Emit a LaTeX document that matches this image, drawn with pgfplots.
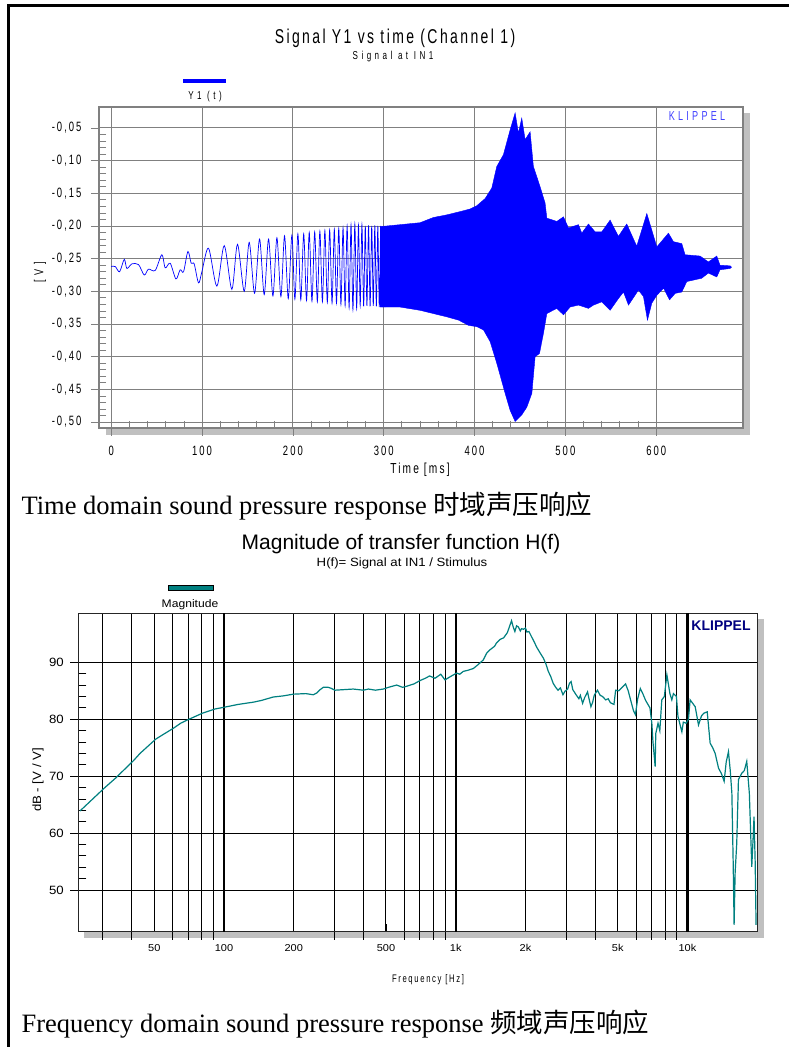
\documentclass[border=0pt]{standalone}
\usepackage{fontspec}
\setmainfont{Liberation Serif}
\newfontfamily\cjk{Noto Sans CJK SC}
\newfontfamily\klf[FakeStretch=0.7,LetterSpace=12]{Liberation Sans}
\newfontfamily\klw[FakeStretch=0.7,LetterSpace=30]{Liberation Sans}
\newfontfamily\klk[FakeStretch=0.7,LetterSpace=25]{Liberation Sans}
\newfontfamily\tk[FakeStretch=0.7,LetterSpace=15]{Liberation Sans}
\newfontfamily\arw[FakeStretch=1.1]{Liberation Sans}
\newfontfamily\ar{Liberation Sans}
\usepackage{pgfplots}
\pgfplotsset{compat=1.18}

\definecolor{sigblue}{HTML}{0000FF}
\definecolor{magteal}{HTML}{008080}
\definecolor{klblue}{HTML}{4040FF}
\definecolor{klnavy}{HTML}{000080}
\definecolor{shadow}{HTML}{C0C0C0}
\definecolor{grd}{HTML}{808080}

\newcommand{\fs}[1]{\fontsize{#1}{#1}\selectfont}

\begin{document}
\begin{tikzpicture}[x=1pt,y=1pt]
\useasboundingbox (0,0) rectangle (789,1047);
% page frame (top and left only)
\draw[line width=3pt] (8.5,0) -- (8.5,1041.5) -- (789,1041.5);

% drop shadows
\fill[shadow] (106,612) rectangle (750,934);
\fill[shadow] (84,109.3) rectangle (764,427.7);

% ---------------- time signal ----------------
\begin{axis}[
    at={(99pt,619pt)}, anchor=south west,
    width=644pt, height=321pt, scale only axis,
    axis background/.style={fill=white},
    xmin=-13.5, xmax=695.6, ymin=-0.509, ymax=-0.018,
    xtick={0,100,200,300,400,500,600},
    xticklabels={0,100,200,300,400,500,600},
    ytick={-0.50,-0.45,-0.40,-0.35,-0.30,-0.25,-0.20,-0.15,-0.10,-0.05},
    yticklabels={{-0,50},{-0,45},{-0,40},{-0,35},{-0,30},{-0,25},{-0,20},{-0,15},{-0,10},{-0,05}},
    minor x tick num=4, minor y tick num=4,
    grid=major, major grid style={grd, line width=0.9pt},
    axis line style={grd, line width=1.1pt},
    tick style={grd, line width=0.8pt},
    tick align=outside, major tick length=8pt, minor tick length=-7pt,
    tick pos=left,
    tick label style={font=\tk\fs{13.5}, text=black},
    xticklabel style={yshift=-7pt},
    yticklabel style={xshift=-6pt},
]
\addplot[sigblue, line width=0.7pt, smooth] coordinates {
(0,-0.262)(4.4,-0.262)(9.2,-0.270)(14.3,-0.251)(17.2,-0.265)(22.7,-0.258)(30,-0.259)
(36.3,-0.275)(41,-0.266)(48.4,-0.268)(55.7,-0.244)(59.4,-0.264)(64.9,-0.257)(71.2,-0.281)
(75.9,-0.267)(79.6,-0.270)(84.4,-0.239)(88,-0.257)(91.3,-0.258)(96.1,-0.287)(99.8,-0.270)
(107.1,-0.234)(116.3,-0.292)(124.4,-0.230)(132.8,-0.297)(139,-0.228)(146.4,-0.300)
(151.9,-0.225)(157.8,-0.303)(163.3,-0.220)(168.4,-0.305)(173.2,-0.220)(178,-0.307)
(182.4,-0.218)(186.8,-0.308)(190.8,-0.215)(194.9,-0.311)(198.9,-0.214)(202.2,-0.312)
(205.5,-0.212)(208.7,-0.313)(211.9,-0.212)(215,-0.314)(218,-0.210)(221,-0.315)(224,-0.209)
(226.9,-0.316)(229.7,-0.208)(232.5,-0.316)(235.2,-0.207)(237.9,-0.317)(240.5,-0.206)
(243.1,-0.318)(245.6,-0.205)(248,-0.318)(250.5,-0.204)(252.9,-0.320)(255.2,-0.203)
(257.5,-0.322)(259.7,-0.200)(261.9,-0.325)(264,-0.198)(266.1,-0.328)(268.2,-0.197)
(270.2,-0.326)(272.2,-0.199)(274.1,-0.322)(276,-0.198)(277.9,-0.323)(279.7,-0.200)
(281.5,-0.322)(283.3,-0.199)(285,-0.323)(286.8,-0.200)(288.5,-0.322)(290.2,-0.199)
(291.9,-0.323)(293.5,-0.200)(295.1,-0.324)(296.7,-0.200)(298.3,-0.324)(299.8,-0.201)
(301.3,-0.324)
};
% dense part: upper envelope then lower envelope back
\addplot[sigblue, fill=sigblue, line width=0.4pt] coordinates {
(296,-0.201)(318,-0.198)(340,-0.195)(354.8,-0.187)(369.5,-0.183)(384.2,-0.178)
(395.2,-0.174)(402.5,-0.169)(411.7,-0.158)(419,-0.142)(424.5,-0.109)(431.8,-0.091)
(439.2,-0.053)(444.7,-0.027)(448.3,-0.058)(452,-0.035)(455.7,-0.068)(461.2,-0.056)
(464.8,-0.109)(472.2,-0.140)(477.7,-0.165)(479.6,-0.188)(490.6,-0.193)(497.9,-0.186)
(503.4,-0.203)(514.4,-0.198)(518.1,-0.211)(525.4,-0.197)(532.8,-0.209)(540.1,-0.209)
(549.3,-0.191)(558.4,-0.216)(567.6,-0.197)(578.6,-0.231)(589.7,-0.181)(600.7,-0.232)
(613.5,-0.211)(619,-0.224)(628.2,-0.227)(631.8,-0.244)(648.3,-0.246)(657.5,-0.255)
(666.7,-0.246)(670.3,-0.260)(681.4,-0.261)(683,-0.263)
(681.4,-0.265)(670.3,-0.267)(666.7,-0.278)(657.5,-0.272)(650,-0.280)(633.7,-0.285)
(628.2,-0.301)(621,-0.303)(614.7,-0.313)(608.2,-0.295)(600.7,-0.306)(595.2,-0.318)
(590.4,-0.344)(586,-0.308)(580.5,-0.298)(569.5,-0.321)(564,-0.301)(558.4,-0.311)
(549.3,-0.329)(540.1,-0.316)(531,-0.321)(525.4,-0.326)(514.4,-0.321)(505.2,-0.324)
(497.9,-0.336)(490.6,-0.326)(479.6,-0.334)(475.9,-0.364)(471.5,-0.395)(466.7,-0.400)
(463.1,-0.456)(457.6,-0.477)(452,-0.489)(444.7,-0.499)(439.2,-0.482)(433.7,-0.456)
(424.5,-0.410)(417.2,-0.377)(409.9,-0.359)(402.5,-0.354)(393.4,-0.352)(382.4,-0.344)
(369.5,-0.339)(354.8,-0.334)(340,-0.329)(318,-0.324)(296,-0.324)
};
\end{axis}

% ---------------- magnitude ----------------
\begin{axis}[
    at={(78.3pt,115.3pt)}, anchor=south west,
    width=679.4pt, height=318.4pt, scale only axis,
    axis background/.style={fill=white},
    xmode=log, xmin=23.5, xmax=20100, ymin=42.7, ymax=98.6,
    xtick={50,200,500,2000,5000},
    xticklabels={50,200,500,2k,5k},
    extra x ticks={100,1000,10000},
    extra x tick labels={100,1k,10k},
    extra x tick style={grid=major, major grid style={black, line width=2.4pt}},
    minor xtick={30,40,60,70,80,90,300,400,600,700,800,900,3000,4000,6000,7000,8000,9000},
    ytick={50,60,70,80,90},
    yticklabels={50,60,70,80,90},
    minor y tick num=4,
    xmajorgrids=true, xminorgrids=true, ymajorgrids=true, yminorgrids=false,
    major grid style={black, line width=1pt},
    minor grid style={black, line width=1pt},
    axis line style={black!85, line width=1.2pt},
    tick style={black, line width=0.9pt},
    tick align=outside, xtick align=inside,
    major tick length=8pt, minor tick length=-8pt,
    tick pos=left,
    x tick label style={font=\arw\fs{10}, yshift=-9pt},
    y tick label style={font=\arw\fs{12}, xshift=-3pt},
]
\addplot[magteal, line width=1.2pt] coordinates {
(23.9,63.9)(30.4,67.9)(33.9,69.6)(40.6,72.7)(43.4,74.0)(50.7,76.5)(55,77.4)(60.4,78.4)
(65,79.3)(70.6,80.0)(80.6,81.05)(91.4,81.8)(100,82.1)(115,82.6)(133.9,83.0)(145,83.3)
(163,83.9)(180,84.1)(199,84.4)(225,84.5)(243,84.3)(251,84.6)(260,85.2)(268,85.6)(282,85.6)
(291,85.4)(301,85.1)(330,85.2)(361,85.3)(380,85.2)(399,85.1)(420,85.3)(450,85.1)(487,85.3)
(512,85.6)(556,86.0)(590,85.6)(615,85.8)(660,86.2)(702,86.8)(740,87.2)(771,87.6)(814,87.2)
(862,87.9)(899,86.9)(940,87.4)(978,87.8)(1010,88.1)(1040,87.9)(1078,88.4)(1130,88.6)
(1190,88.9)(1250,89.6)(1314,90.4)(1360,91.6)(1406,92.2)(1470,92.8)(1500,93.4)(1552,94.0)
(1610,94.3)(1670,95.2)(1741,97.3)(1770,96.2)(1800,95.4)(1830,96.4)(1864,96.2)(1900,95.5)
(1923,95.9)(1960,95.8)(2000,96.0)(2030,95.3)(2070,95.4)(2123,94.5)(2180,93.6)(2232,92.7)
(2300,91.8)(2391,90.7)(2450,89.7)(2509,88.4)(2570,87.5)(2634,86.3)(2700,85.6)(2763,85.1)
(2830,85.5)(2902,84.3)(2960,84.9)(3040,85.3)(3096,86.3)(3148,86.6)(3200,85.2)(3306,84.3)
(3400,83.6)(3450,84.2)(3528,82.8)(3600,83.8)(3706,84.8)(3760,83.6)(3832,82.2)(3900,83.0)
(3960,84.2)(4088,85.1)(4200,84.2)(4300,84.0)(4436,83.4)(4550,83.6)(4650,82.9)(4818,82.6)
(4899,85.1)(5050,85.0)(5200,85.5)(5407,86.2)(5550,85.0)(5700,83.2)(5850,81.5)(5963,80.8)
(6100,83.6)(6260,85.4)(6400,84.6)(6600,83.3)(6890,82.0)(7020,79.3)(7100,76.0)(7255,71.7)
(7300,77.5)(7465,79.3)(7600,78.0)(7750,83.4)(7950,84.0)(8150,87.8)(8250,86.5)(8400,84.5)
(8560,83.4)(8700,84.5)(8960,84.0)(9100,80.5)(9460,77.8)(9600,79.5)(9870,79.3)(10100,80.0)
(10270,83.4)(10800,82.2)(11160,79.0)(11500,80.6)(11760,81.05)(12170,81.3)(12530,75.8)
(12850,75.0)(13170,74.0)(13620,71.4)(14000,70.5)(14400,69.1)(14700,72.5)(15030,74.3)
(15300,71.0)(15550,67.0)(15750,55.0)(15900,43.9)(16060,53.0)(16320,58.2)(16600,69.4)
(17150,70.5)(17600,71.0)(18030,72.6)(18500,67.0)(18950,54.1)(19150,58.0)(19380,62.9)
(19600,55.0)(19780,43.9)
};
\end{axis}

% ---------------- texts of the time chart ----------------
\node[font=\klf\fs{20}] at (395,1009) {Signal Y1 vs time (Channel 1)};
\node[font=\klw\fs{11.5}] at (393,990) {Signal at IN1};
\fill[sigblue] (183,968) rectangle (226,964);
\node[font=\klw\fs{11.5}] at (205,950) {Y1 (t)};
\node[klblue, font=\klk\fs{13}] at (697,931) {KLIPPEL};
\node[font=\tk\fs{14.5}] at (420,577) {Time [ms]};
\node[rotate=90, font=\tk\fs{13}] at (40,775) {[ V ]};
\node[anchor=base west, font=\fs{26.5}] at (18,532) {Time domain sound pressure response {\cjk 时域声压响应}};

% ---------------- texts of the magnitude chart ----------------
\node[font=\ar\fs{21}] at (401,503) {Magnitude of transfer function H(f)};
\node[font=\arw\fs{12}] at (402,484) {H(f)= Signal at IN1 / Stimulus};
\filldraw[fill=magteal, draw=black, line width=0.6pt] (168,462) rectangle (213,457);
\node[font=\arw\fs{11}] at (190,442) {Magnitude};
\node[klnavy, font=\ar\bfseries\fs{14}] at (721,421) {KLIPPEL};
\node[font=\tk\fs{11}] at (428,67) {Frequency [Hz]};
\node[rotate=90, font=\arw\fs{12}] at (38,267) {dB - [V / V]};
\node[anchor=base west, font=\fs{26.5}] at (18,14) {Frequency domain sound pressure response {\cjk 频域声压响应}};
\end{tikzpicture}
\end{document}
